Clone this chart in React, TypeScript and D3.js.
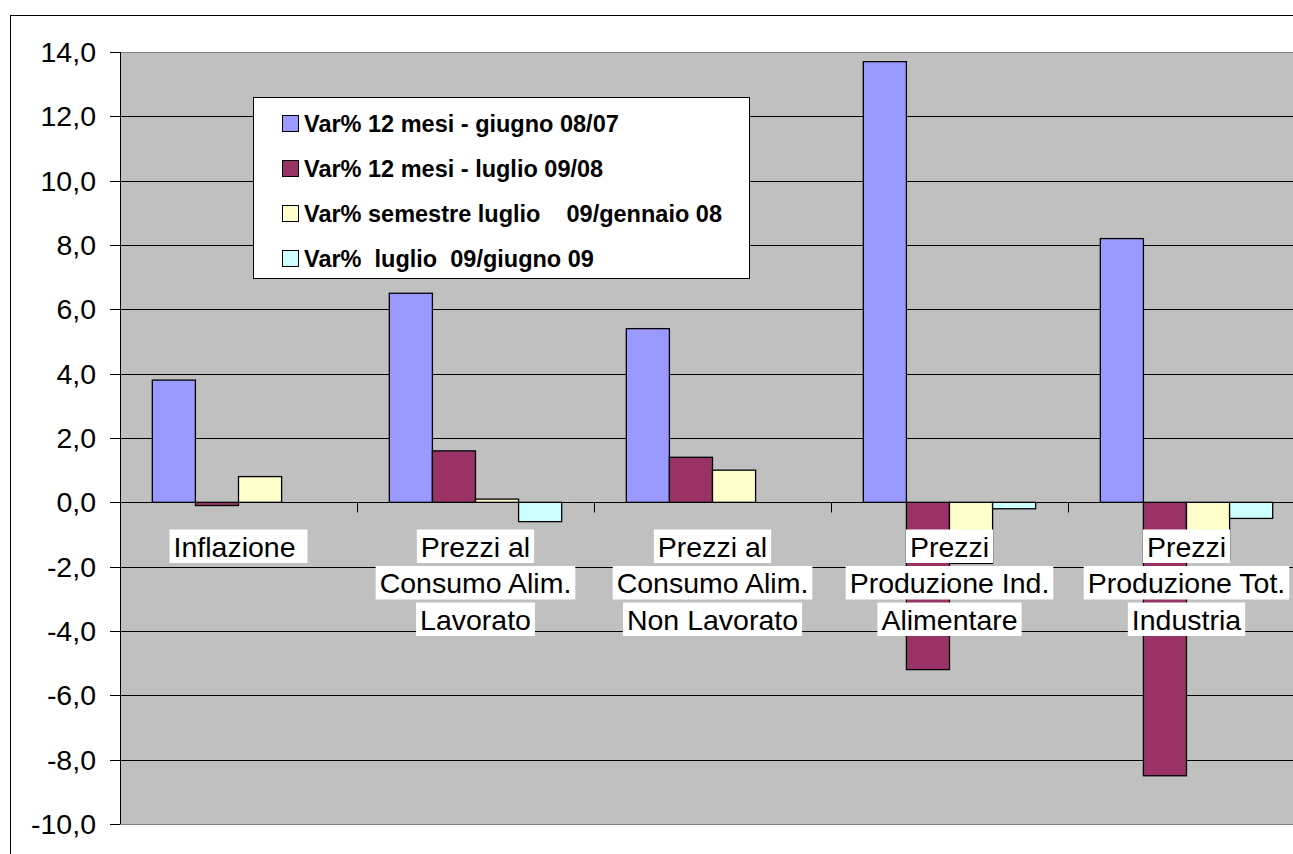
import React, { useEffect, useRef } from "react";
import * as d3 from "d3";

const categories: string[][] = [
  ["Inflazione "],
  ["Prezzi al", "Consumo Alim.", "Lavorato"],
  ["Prezzi al", "Consumo Alim.", "Non Lavorato"],
  ["Prezzi", "Produzione Ind.", "Alimentare"],
  ["Prezzi", "Produzione Tot.", "Industria"],
];
const seriesNames = [
  "Var% 12 mesi - giugno 08/07",
  "Var% 12 mesi - luglio 09/08",
  "Var% semestre luglio    09/gennaio 08",
  "Var%  luglio  09/giugno 09",
];
const giugno0807 = [3.8, 6.5, 5.4, 13.7, 8.2];
const luglio0908 = [-0.1, 1.6, 1.4, -5.2, -8.5];
const semestre = [0.8, 0.1, 1.0, -1.9, -1.8];
const luglioGiugno = [0.0, -0.6, 0.0, -0.2, -0.5];
const seriesValues = [giugno0807, luglio0908, semestre, luglioGiugno];
const colors = ["#9999FF", "#993366", "#FFFFCC", "#CCFFFF"];
const yTicks = [14, 12, 10, 8, 6, 4, 2, 0, -2, -4, -6, -8, -10];

export default function App() {
  const ref = useRef<SVGSVGElement>(null);
  useEffect(() => {
    const svg = d3.select(ref.current);
    svg.selectAll("*").remove();
    const left = 120, top = 52, right = 1305, bottom = 824;
    const font = "'Liberation Sans', Arial, sans-serif";

    // outer chart border
    svg.append("rect").attr("x", 10.5).attr("y", 15.5).attr("width", 1400).attr("height", 1000)
      .attr("fill", "#fff").attr("stroke", "#000").attr("stroke-width", 1);

    const catIdx = categories.map((_, i) => String(i));
    const x = d3.scaleBand<string>().domain(catIdx).range([left, right]).padding(0);
    const xs = d3.scaleBand<string>().domain(seriesNames.map((_, i) => String(i)))
      .range([0, x.bandwidth()]).paddingInner(0).paddingOuter(0.75);
    const y = d3.scaleLinear().domain([-10, 14]).range([bottom, top]);

    // plot area
    svg.append("rect").attr("x", left).attr("y", top).attr("width", right - left).attr("height", bottom - top)
      .attr("fill", "#C0C0C0");
    // gridlines
    svg.append("g").selectAll("line").data(yTicks).join("line")
      .attr("x1", left).attr("x2", right)
      .attr("y1", (d) => Math.round(y(d)) + 0.5).attr("y2", (d) => Math.round(y(d)) + 0.5)
      .attr("stroke", (d) => (d === 14 || d === -10 ? "#808080" : "#000")).attr("stroke-width", 1);

    // bars
    seriesValues.forEach((vals, si) => {
      const data = vals.map((v, i) => ({ v, i })).filter((d) => d.v !== 0);
      svg.append("g").selectAll("rect").data(data).join("rect")
        .attr("x", (d) => (x(String(d.i)) as number) + (xs(String(si)) as number))
        .attr("y", (d) => y(Math.max(0, d.v)))
        .attr("width", xs.bandwidth())
        .attr("height", (d) => Math.abs(y(d.v) - y(0)))
        .attr("fill", colors[si]).attr("stroke", "#000").attr("stroke-width", 1.3);
    });

    // y axis
    const yAxis = svg.append("g");
    yAxis.append("line").attr("x1", left + 0.5).attr("x2", left + 0.5).attr("y1", top).attr("y2", bottom)
      .attr("stroke", "#000");
    yAxis.selectAll("line.t").data(yTicks).join("line").attr("class", "t")
      .attr("x1", left - 10).attr("x2", left)
      .attr("y1", (d) => Math.round(y(d)) + 0.5).attr("y2", (d) => Math.round(y(d)) + 0.5)
      .attr("stroke", "#000");
    yAxis.selectAll("text").data(yTicks).join("text")
      .attr("x", 96).attr("y", (d) => y(d) + 10)
      .attr("text-anchor", "end").attr("font-family", font).attr("font-size", 28.5)
      .text((d) => d3.format(".1f")(d).replace(".", ",").replace("−", "-"));

    // x axis at 0
    const x0 = Math.round(y(0)) + 0.5;
    svg.append("line").attr("x1", left).attr("x2", right).attr("y1", x0).attr("y2", x0).attr("stroke", "#000");
    svg.append("g").selectAll("line").data(catIdx.slice(1)).join("line")
      .attr("x1", (d) => Math.round(x(d) as number) + 0.5).attr("x2", (d) => Math.round(x(d) as number) + 0.5)
      .attr("y1", x0).attr("y2", x0 + 10).attr("stroke", "#000");

    // category labels
    const lblG = svg.append("g");
    categories.forEach((lines, ci) => {
      const cx = (x(String(ci)) as number) + x.bandwidth() / 2;
      lines.forEach((ln, li) => {
        const by = 556.5 + li * 36.5;
        const g = lblG.append("g");
        const rect = g.append("rect").attr("fill", "#fff");
        const t = g.append("text").attr("x", cx).attr("y", by).attr("text-anchor", "middle")
          .attr("font-family", font).attr("font-size", 28.5).style("white-space", "pre").text(ln);
        const w = (t.node() as SVGTextElement).getComputedTextLength();
        rect.attr("x", cx - w / 2 - 4).attr("y", by - 27).attr("width", w + 8).attr("height", 33.5);
      });
    });

    // legend
    const lg = svg.append("g");
    lg.append("rect").attr("x", 253.5).attr("y", 97.5).attr("width", 496).attr("height", 181)
      .attr("fill", "#fff").attr("stroke", "#000").attr("stroke-width", 1);
    seriesNames.forEach((name, i) => {
      const cy = 123.5 + i * 45;
      lg.append("rect").attr("x", 282.5).attr("y", cy - 8).attr("width", 16).attr("height", 16)
        .attr("fill", colors[i]).attr("stroke", "#000").attr("stroke-width", 1);
      lg.append("text").attr("x", 304).attr("y", cy + 8.5).attr("font-family", font)
        .attr("font-size", 23.5).attr("font-weight", "bold").style("white-space", "pre").text(name);
    });
  }, []);
  return (
    <svg ref={ref} width={1293} height={854}
      style={{ position: "absolute", left: 0, top: 0, background: "#fff", display: "block" }} />
  );
}
